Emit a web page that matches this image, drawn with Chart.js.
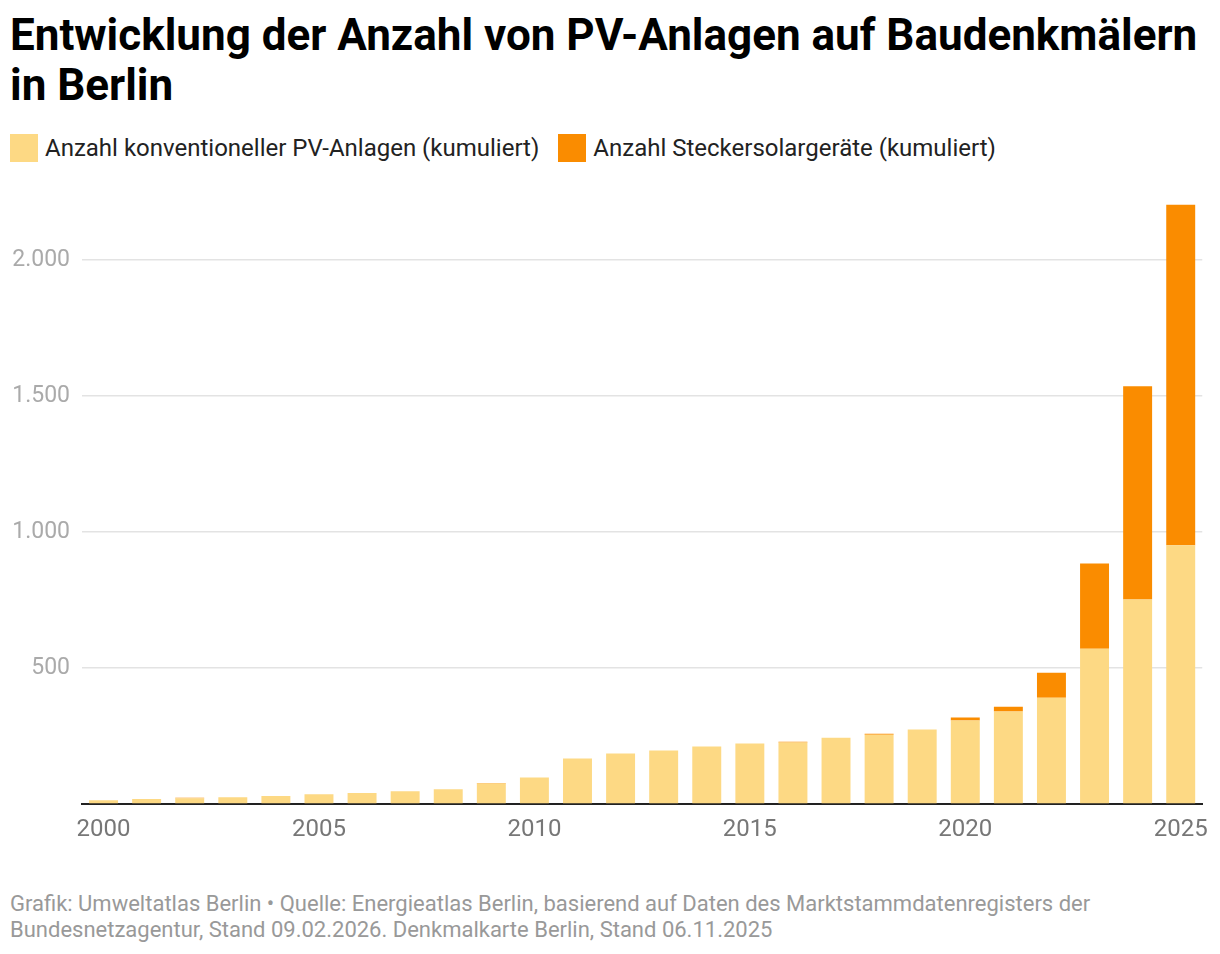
<!DOCTYPE html>
<html>

<head>
    <meta charset="utf-8">
    <script src="https://cdn.jsdelivr.net/npm/chart.js@4.4.1/dist/chart.umd.min.js"></script>
    <style>
        body {
            margin: 0;
            width: 1220px;
            height: 954px;
            background: #fff;
            position: relative;
            font-family: Roboto, "Noto Sans", sans-serif;
            overflow: hidden;
        }

        #title {
            position: absolute;
            left: 10px;
            top: 10px;
            margin: 0;
            font-size: 44px;
            line-height: 50px;
            font-weight: 700;
            color: #000;
        }

        #legend {
            position: absolute;
            left: 10px;
            top: 133px;
            font-size: 24px;
            color: #222;
            display: flex;
        }

        .item {
            display: flex;
            align-items: center;
            margin-right: 19px;
            height: 29px;
        }

        .swatch {
            width: 28px;
            height: 28px;
            margin-right: 7px;
        }

        #chart-container {
            position: absolute;
            left: 0;
            top: 169px;
            width: 1220px;
            height: 692px;
        }

        #source {
            position: absolute;
            left: 10px;
            top: 891px;
            font-size: 22px;
            line-height: 26px;
            color: #999;
        }
    </style>
</head>

<body>
    <h1 id="title">Entwicklung der Anzahl von PV-Anlagen auf Baudenkmälern<br>in Berlin</h1>
    <div id="legend"></div>
    <div id="chart-container">
        <canvas id="pvChart" width="1220" height="692"></canvas>
    </div>
    <div id="source">Grafik: Umweltatlas Berlin • Quelle: Energieatlas Berlin, basierend auf Daten des Marktstammdatenregisters der<br>Bundesnetzagentur, Stand 09.02.2026. Denkmalkarte Berlin, Stand 06.11.2025</div>

    <script>
        // data
        const years = ["2000", "2001", "2002", "2003", "2004", "2005", "2006", "2007", "2008", "2009",
            "2010", "2011", "2012", "2013", "2014", "2015", "2016", "2017", "2018", "2019",
            "2020", "2021", "2022", "2023", "2024", "2025"];
        const konventionell = [14, 18, 21, 25, 29, 36, 40, 47, 54, 75,
            97, 167, 186, 197, 211, 222, 226, 244, 255, 274,
            307, 340, 391, 571, 752, 951];
        const stecker = [0, 0, 2, 0, 0, 0, 0, 0, 0, 2,
            0, 0, 0, 0, 0, 0, 3, 0, 3, 0,
            11, 18, 92, 313, 784, 1252];
        const seriesNames = ["Anzahl konventioneller PV-Anlagen (kumuliert)", "Anzahl Steckersolargeräte (kumuliert)"];
        const seriesColors = ["#fdd984", "#fa8c00"];
        const yTicks = [0, 500, 1000, 1500, 2000];

        // legend in html
        const legend = document.getElementById('legend');
        seriesNames.forEach(function (name, i) {
            const item = document.createElement('div');
            item.className = 'item';
            item.innerHTML = '<span class="swatch" style="background:' + seriesColors[i] + '"></span>' + name;
            legend.appendChild(item);
        });

        function formatDe(v) {
            return String(v).replace(/\B(?=(\d{3})+(?!\d))/g, '.');
        }

        const ctx = document.getElementById('pvChart').getContext('2d');

        const pvChart = new Chart(ctx, {
            type: 'bar',
            data: {
                labels: years,
                datasets: [
                    { label: seriesNames[0], data: konventionell, backgroundColor: seriesColors[0] },
                    { label: seriesNames[1], data: stecker, backgroundColor: seriesColors[1] }
                ]
            },
            options: {
                responsive: false,
                animation: false,
                layout: { padding: { top: 0, right: 16, left: 0, bottom: 0 } },
                datasets: {
                    bar: { categoryPercentage: 1, barPercentage: 0.672 }
                },
                plugins: {
                    legend: { display: false },
                    tooltip: { enabled: false }
                },
                scales: {
                    x: {
                        stacked: true,
                        grid: { display: false, drawTicks: false },
                        border: { display: true, color: '#222', width: 2 },
                        ticks: {
                            autoSkip: false,
                            maxRotation: 0,
                            padding: 12,
                            color: '#777',
                            font: { family: 'Roboto', size: 24 },
                            callback: function (value, index) {
                                const y = years[index];
                                return Number(y) % 5 === 0 ? y : '';
                            }
                        },
                        afterFit: function (scale) { scale.height = 57; }
                    },
                    y: {
                        stacked: true,
                        min: 0,
                        max: 2240,
                        grid: { color: '#e3e3e3', lineWidth: 1.5, drawTicks: false },
                        border: { display: false },
                        ticks: {
                            stepSize: 500,
                            padding: 12,
                            color: '#aaa',
                            font: { family: 'Roboto', size: 23 },
                            callback: function (v) { return v === 0 ? '' : formatDe(v); }
                        },
                        afterBuildTicks: function (scale) {
                            scale.ticks = yTicks.map(function (v) { return { value: v }; });
                        },
                        afterFit: function (scale) { scale.width = 82; }
                    }
                }
            }
        });
    </script>
</body>

</html>
